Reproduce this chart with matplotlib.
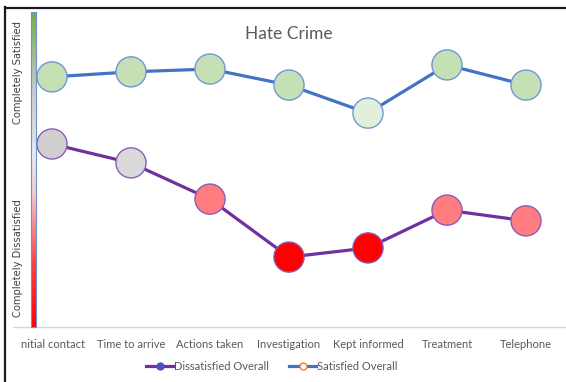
import matplotlib
matplotlib.use("Agg")
import matplotlib.pyplot as plt
import numpy as np
from matplotlib.colors import LinearSegmentedColormap
from matplotlib.lines import Line2D
from matplotlib.patches import Rectangle

# Survey stages and scores (0 = completely dissatisfied, 100 = completely satisfied)
stages = ["Initial contact", "Time to arrive", "Actions taken", "Investigation",
          "Kept informed", "Treatment", "Telephone"]
satisfied = [79.4, 81.0, 81.9, 76.8, 67.9, 83.2, 76.8]
dissatisfied = [58.1, 52.1, 40.6, 22.2, 25.1, 37.1, 33.7]

# point fills picked from the satisfaction colour scale
sat_fill = ["#c5e0b4", "#c5e0b4", "#c5e0b4", "#c5e0b4", "#e2efda", "#c5e0b4", "#c5e0b4"]
dis_fill = ["#d0cece", "#d9d9d9", "#ff7c80", "#ff0000", "#ff0000", "#ff7c80", "#ff7c80"]

W, H = 566, 382
fig = plt.figure(figsize=(W / 100, H / 100), dpi=100)
fig.patch.set_facecolor("white")

ax = fig.add_axes([12.5 / W, 55 / H, 553 / W, 315 / H])
x = np.arange(len(stages))

ax.plot(x, satisfied, color="#4472c4", lw=2.3, zorder=2)
ax.plot(x, dissatisfied, color="#7030a0", lw=2.3, zorder=2)
ax.scatter(x, satisfied, s=470, c=sat_fill, edgecolors="#7096d8", linewidths=1.0, zorder=3)
ax.scatter(x, dissatisfied, s=470, c=dis_fill, edgecolors="#8c5cb8", linewidths=1.0, zorder=3)

ax.set_xlim(-0.5, 6.5)
ax.set_ylim(0, 100)
ax.set_yticks([])
ax.set_xticks(x)
ax.set_xticklabels(stages, fontsize=8, color="#595959", family="Lato")
ax.tick_params(axis="x", length=0, pad=9)
for side in ["top", "right", "left"]:
    ax.spines[side].set_visible(False)
ax.spines["bottom"].set_color("#d9d9d9")
ax.spines["bottom"].set_linewidth(1)

# first label runs off the chart edge: mask its first letter
fig.add_artist(Rectangle((6 / W, 0), 14 / W, 52 / H, transform=fig.transFigure,
                         facecolor="white", edgecolor="none", zorder=5))

# satisfaction colour bar on the left
cmap = LinearSegmentedColormap.from_list("sat", [
    (0.0, "#ff0000"), (0.2, "#ff4040"), (0.42, "#f4c8cc"), (0.55, "#e6e9f0"),
    (0.75, "#c9c9c9"), (1.0, "#70ad47")])
cax = fig.add_axes([31 / W, 55 / H, 5 / W, 315 / H])
grad = np.linspace(0, 1, 256).reshape(-1, 1)
cax.imshow(grad, aspect="auto", cmap=cmap, origin="lower")
cax.set_xticks([])
cax.set_yticks([])
for s in cax.spines.values():
    s.set_color("#6f8fcf")
    s.set_linewidth(0.8)

fig.text(18 / W, 1 - 72 / H, "Completely Satisfied", rotation=90, fontsize=7.2,
         color="#404040", ha="center", va="center")
fig.text(18 / W, 1 - 258 / H, "Completely Dissatisfied", rotation=90, fontsize=7.2,
         color="#404040", ha="center", va="center")

fig.text(289 / W, 1 - 34 / H, "Hate Crime", fontsize=12.5, color="#595959",
         ha="center", va="center", family="Lato")

handles = [
    Line2D([], [], color="#7030a0", lw=2.3, marker="o", markersize=5,
           markerfacecolor="#4a52c4", markeredgecolor="#4a52c4"),
    Line2D([], [], color="#4472c4", lw=2.3, marker="o", markersize=5,
           markerfacecolor="white", markeredgecolor="#ed7d31"),
]
fig.legend(handles, ["Dissatisfied Overall", "Satisfied Overall"], loc="center",
           bbox_to_anchor=(272 / W, 16 / H), ncol=2, frameon=False,
           handlelength=2.4, handletextpad=0.1, columnspacing=1.8,
           prop={"family": "Lato", "size": 8}, labelcolor="#595959")

# frame edges
fig.add_artist(Line2D([5 / W, 1], [1 - 8 / H, 1 - 8 / H], color="#1a1a1a", lw=1.6,
                      transform=fig.transFigure, zorder=6))
fig.add_artist(Line2D([5 / W, 5 / W], [0, 1 - 7 / H], color="#1a1a1a", lw=1.6,
                      transform=fig.transFigure, zorder=6))

fig.savefig("out.png", dpi=100)
